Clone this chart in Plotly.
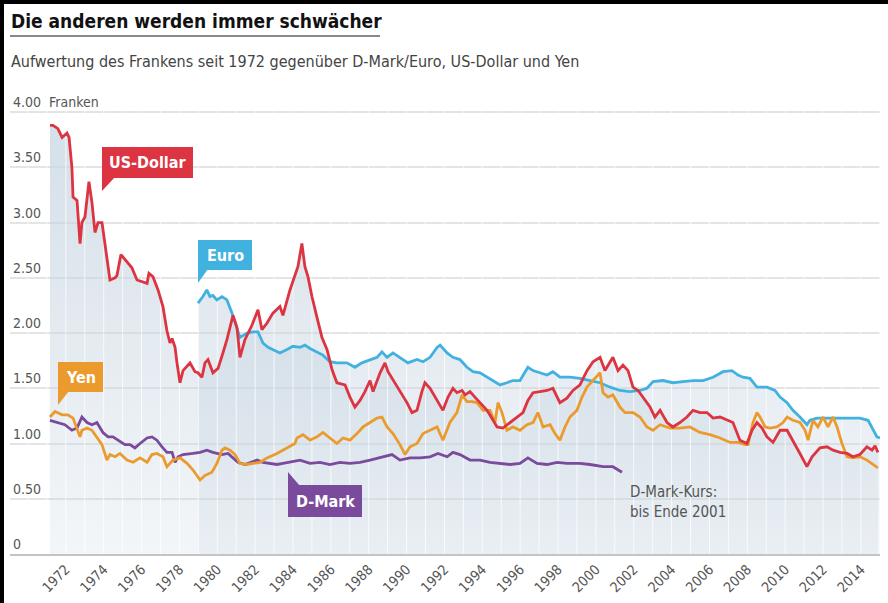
import plotly.graph_objects as go

# ---------------- data (CHF per unit: 1 USD, 1 EUR/ECU, 100 JPY, 100 DEM) ----------------
usd_years = [1971.16, 1971.32, 1971.58, 1971.80, 1972.06, 1972.17, 1972.32, 1972.38, 1972.59, 1972.75,
             1972.85, 1973.01, 1973.22, 1973.38, 1973.54, 1973.70, 1973.91, 1974.12, 1974.33, 1974.60,
             1974.70, 1974.91, 1975.23, 1975.49, 1975.76, 1976.07, 1976.29, 1976.39, 1976.60, 1976.87,
             1977.13, 1977.34, 1977.50, 1977.61, 1977.77, 1977.87, 1978.03, 1978.19, 1978.56, 1978.82,
             1978.98, 1979.19, 1979.35, 1979.51, 1979.77, 1980.04, 1980.14, 1980.30, 1980.51, 1980.83,
             1981.04, 1981.20, 1981.46, 1981.83, 1982.15, 1982.36, 1982.63, 1982.94, 1983.31, 1983.47,
             1983.84, 1984.10, 1984.26, 1984.47, 1984.63, 1984.79, 1985.00, 1985.27, 1985.53, 1985.80,
             1986.06, 1986.32, 1986.75, 1987.01, 1987.27, 1987.54, 1987.80, 1988.07, 1988.23, 1988.60,
             1988.86, 1989.02, 1989.39, 1989.76, 1990.02, 1990.29, 1990.55, 1990.81, 1990.97, 1991.24,
             1991.61, 1991.92, 1992.19, 1992.45, 1992.66, 1992.93, 1993.09, 1993.35, 1993.61, 1993.88,
             1994.25, 1994.57, 1994.78, 1995.09, 1995.46, 1995.83, 1996.15, 1996.41, 1996.68, 1997.05,
             1997.42, 1997.73, 1998.10, 1998.47, 1998.79, 1999.16, 1999.53, 1999.85, 2000.22, 2000.48,
             2000.90, 2001.17, 2001.43, 2001.70, 2001.96, 2002.23, 2002.49, 2002.86, 2003.12, 2003.39,
             2003.76, 2004.07, 2004.44, 2004.81, 2005.13, 2005.50, 2005.87, 2006.19, 2006.56, 2006.93,
             2007.24, 2007.61, 2007.98, 2008.25, 2008.51, 2008.78, 2009.04, 2009.36, 2009.73, 2010.10,
             2010.41, 2010.78, 2011.15, 2011.42, 2011.84, 2012.21, 2012.53, 2012.90, 2013.27, 2013.58,
             2013.95, 2014.32, 2014.59, 2014.75, 2014.90]
usd_values = [3.88, 3.88, 3.85, 3.77, 3.81, 3.77, 3.50, 3.23, 3.20, 2.81,
              3.00, 3.05, 3.37, 3.18, 2.91, 3.00, 3.00, 2.75, 2.48, 2.50,
              2.52, 2.71, 2.64, 2.59, 2.48, 2.46, 2.45, 2.54, 2.51, 2.39,
              2.24, 2.02, 1.91, 1.95, 1.87, 1.73, 1.55, 1.66, 1.73, 1.65,
              1.64, 1.60, 1.73, 1.76, 1.64, 1.68, 1.73, 1.82, 1.94, 2.16,
              2.05, 1.78, 1.94, 2.07, 2.21, 2.03, 2.09, 2.18, 2.24, 2.16,
              2.39, 2.51, 2.60, 2.81, 2.60, 2.51, 2.33, 2.14, 1.96, 1.85,
              1.67, 1.55, 1.53, 1.42, 1.33, 1.39, 1.47, 1.57, 1.47, 1.64,
              1.73, 1.65, 1.55, 1.44, 1.37, 1.28, 1.30, 1.47, 1.55, 1.50,
              1.39, 1.30, 1.42, 1.50, 1.46, 1.48, 1.44, 1.47, 1.42, 1.37,
              1.30, 1.21, 1.15, 1.14, 1.19, 1.24, 1.28, 1.39, 1.46, 1.47,
              1.48, 1.50, 1.37, 1.41, 1.48, 1.53, 1.66, 1.74, 1.78, 1.66,
              1.78, 1.66, 1.71, 1.66, 1.51, 1.48, 1.42, 1.33, 1.24, 1.30,
              1.19, 1.15, 1.19, 1.24, 1.30, 1.28, 1.28, 1.23, 1.24, 1.21,
              1.19, 1.03, 1.00, 1.12, 1.19, 1.14, 1.06, 1.01, 1.12, 1.12,
              1.03, 0.91, 0.79, 0.88, 0.96, 0.97, 0.94, 0.92, 0.91, 0.88,
              0.90, 0.97, 0.94, 0.98, 0.92]

eur_years = [1978.98, 1979.24, 1979.45, 1979.61, 1979.77, 1979.98, 1980.25, 1980.51, 1980.78, 1981.04,
             1981.20, 1981.57, 1981.89, 1982.15, 1982.41, 1982.68, 1982.94, 1983.31, 1983.68, 1984.00,
             1984.37, 1984.63, 1984.90, 1985.27, 1985.58, 1985.95, 1986.32, 1986.85, 1987.27, 1987.64,
             1988.07, 1988.44, 1988.70, 1988.97, 1989.28, 1989.65, 1990.07, 1990.55, 1990.87, 1991.24,
             1991.61, 1991.77, 1992.14, 1992.45, 1992.82, 1993.19, 1993.51, 1993.88, 1994.25, 1994.57,
             1994.94, 1995.30, 1995.62, 1995.99, 1996.41, 1996.68, 1997.05, 1997.42, 1997.73, 1998.10,
             1998.63, 1999.16, 1999.69, 2000.22, 2000.75, 2001.27, 2001.80, 2002.33, 2002.70, 2003.02,
             2003.55, 2004.07, 2004.60, 2005.13, 2005.66, 2006.19, 2006.72, 2007.19, 2007.51, 2007.77,
             2008.14, 2008.51, 2009.04, 2009.46, 2009.73, 2010.10, 2010.41, 2010.78, 2011.15, 2011.31,
             2011.68, 2012.21, 2012.74, 2013.27, 2013.95, 2014.38, 2014.64, 2014.85, 2015.01]
eur_values = [2.27, 2.33, 2.39, 2.33, 2.34, 2.30, 2.33, 2.30, 2.18, 2.05,
              1.96, 2.00, 2.01, 2.01, 1.91, 1.87, 1.85, 1.82, 1.85, 1.88,
              1.87, 1.89, 1.86, 1.83, 1.80, 1.74, 1.73, 1.73, 1.69, 1.73,
              1.76, 1.78, 1.83, 1.78, 1.82, 1.78, 1.73, 1.76, 1.74, 1.78,
              1.87, 1.89, 1.82, 1.78, 1.76, 1.69, 1.65, 1.64, 1.60, 1.57,
              1.53, 1.55, 1.57, 1.57, 1.69, 1.66, 1.64, 1.62, 1.65, 1.60,
              1.60, 1.59, 1.57, 1.55, 1.51, 1.48, 1.47, 1.48, 1.50, 1.56,
              1.57, 1.55, 1.56, 1.57, 1.57, 1.60, 1.65, 1.66, 1.62, 1.60,
              1.59, 1.51, 1.51, 1.48, 1.42, 1.37, 1.30, 1.24, 1.17, 1.21,
              1.23, 1.23, 1.23, 1.23, 1.23, 1.21, 1.12, 1.06, 1.05]

jpy_years = [1971.16, 1971.43, 1971.80, 1972.11, 1972.38, 1972.64, 1972.75, 1972.85, 1973.12, 1973.38,
             1973.64, 1973.91, 1974.17, 1974.33, 1974.60, 1974.86, 1975.23, 1975.55, 1975.92, 1976.29,
             1976.55, 1976.81, 1977.13, 1977.34, 1977.66, 1978.03, 1978.40, 1978.72, 1979.09, 1979.35,
             1979.72, 1979.98, 1980.25, 1980.41, 1980.67, 1980.94, 1981.20, 1981.57, 1981.89, 1982.26,
             1982.63, 1983.15, 1983.68, 1984.10, 1984.21, 1984.53, 1984.90, 1985.27, 1985.58, 1985.95,
             1986.32, 1986.64, 1987.01, 1987.38, 1987.70, 1988.07, 1988.44, 1988.70, 1988.97, 1989.28,
             1989.65, 1989.92, 1990.18, 1990.55, 1990.87, 1991.24, 1991.61, 1991.92, 1992.29, 1992.66,
             1992.93, 1993.19, 1993.46, 1993.72, 1994.04, 1994.41, 1994.67, 1994.83, 1995.04, 1995.30,
             1995.62, 1995.99, 1996.36, 1996.68, 1996.94, 1997.21, 1997.58, 1997.84, 1998.10, 1998.37,
             1998.63, 1999.00, 1999.27, 1999.53, 1999.85, 2000.22, 2000.38, 2000.64, 2000.90, 2001.27,
             2001.54, 2001.96, 2002.33, 2002.70, 2003.02, 2003.39, 2003.92, 2004.44, 2004.97, 2005.50,
             2006.03, 2006.56, 2007.09, 2007.51, 2007.88, 2008.04, 2008.30, 2008.51, 2008.67, 2008.94,
             2009.20, 2009.57, 2009.89, 2010.10, 2010.41, 2010.78, 2011.05, 2011.21, 2011.47, 2011.73,
             2012.00, 2012.26, 2012.53, 2012.74, 2013.00, 2013.27, 2013.58, 2013.95, 2014.32, 2014.64,
             2014.90]
jpy_values = [1.24, 1.29, 1.26, 1.26, 1.23, 1.12, 1.06, 1.12, 1.14, 1.12,
              1.06, 0.99, 0.85, 0.90, 0.88, 0.91, 0.85, 0.83, 0.87, 0.83,
              0.90, 0.91, 0.88, 0.79, 0.85, 0.87, 0.82, 0.76, 0.67, 0.71,
              0.74, 0.82, 0.94, 0.96, 0.94, 0.90, 0.82, 0.81, 0.82, 0.83,
              0.87, 0.91, 0.96, 1.00, 1.05, 1.08, 1.03, 1.06, 1.10, 1.05,
              1.00, 1.05, 1.03, 1.09, 1.15, 1.19, 1.23, 1.24, 1.15, 1.09,
              0.99, 0.90, 0.97, 1.00, 1.09, 1.12, 1.15, 1.03, 1.19, 1.28,
              1.44, 1.38, 1.38, 1.37, 1.30, 1.30, 1.19, 1.37, 1.28, 1.12,
              1.15, 1.12, 1.17, 1.19, 1.28, 1.15, 1.17, 1.09, 1.03, 1.15,
              1.24, 1.30, 1.42, 1.51, 1.57, 1.64, 1.46, 1.42, 1.44, 1.33,
              1.28, 1.28, 1.24, 1.15, 1.12, 1.17, 1.14, 1.14, 1.15, 1.10,
              1.08, 1.05, 1.01, 1.01, 0.99, 0.99, 1.19, 1.28, 1.24, 1.15,
              1.14, 1.15, 1.19, 1.24, 1.21, 1.19, 1.12, 1.03, 1.21, 1.15,
              1.24, 1.15, 1.24, 1.15, 1.00, 0.88, 0.87, 0.88, 0.85, 0.81,
              0.78]

dem_years = [1971.16, 1971.58, 1971.95, 1972.32, 1972.59, 1972.85, 1973.12, 1973.38, 1973.64, 1973.96,
             1974.23, 1974.49, 1974.75, 1975.12, 1975.39, 1975.65, 1975.92, 1976.29, 1976.55, 1976.81,
             1977.08, 1977.34, 1977.61, 1977.77, 1977.93, 1978.19, 1978.72, 1979.09, 1979.45, 1979.77,
             1980.25, 1980.57, 1980.83, 1981.09, 1981.46, 1981.73, 1982.10, 1982.41, 1982.78, 1983.15,
             1983.47, 1983.84, 1984.37, 1984.90, 1985.43, 1985.95, 1986.48, 1987.01, 1987.54, 1988.07,
             1988.60, 1989.23, 1989.65, 1990.18, 1990.71, 1991.24, 1991.66, 1992.14, 1992.45, 1992.82,
             1993.35, 1993.88, 1994.41, 1994.94, 1995.46, 1995.99, 1996.41, 1996.89, 1997.42, 1997.95,
             1998.47, 1999.16, 1999.69, 2000.38, 2000.90, 2001.38]
dem_values = [1.21, 1.19, 1.17, 1.12, 1.14, 1.24, 1.19, 1.17, 1.19, 1.10,
              1.06, 1.06, 1.03, 0.99, 0.99, 0.96, 1.00, 1.05, 1.06, 1.03,
              0.97, 0.92, 0.92, 0.83, 0.88, 0.90, 0.91, 0.92, 0.94, 0.92,
              0.90, 0.91, 0.87, 0.83, 0.81, 0.83, 0.85, 0.83, 0.82, 0.81,
              0.82, 0.83, 0.85, 0.82, 0.83, 0.81, 0.83, 0.82, 0.83, 0.85,
              0.87, 0.90, 0.85, 0.87, 0.87, 0.88, 0.91, 0.88, 0.92, 0.90,
              0.85, 0.85, 0.83, 0.82, 0.81, 0.82, 0.87, 0.82, 0.81, 0.83,
              0.82, 0.82, 0.81, 0.79, 0.79, 0.74]

y_tickvals = [0, 0.5, 1.0, 1.5, 2.0, 2.5, 3.0, 3.5, 4.0]
y_ticktext = ["0", "0.50", "1.00", "1.50", "2.00", "2.50", "3.00", "3.50", "4.00&nbsp;&nbsp;Franken"]
x_tickvals = list(range(1972, 2015, 2))
x_ticktext = [str(v) for v in x_tickvals]
grid_years = list(range(1970, 2016))

# ---------------- styling ----------------
W, H = 888, 603
L, R, T, B = 10, 8, 101, 49
X0, X1 = 1969.05, 2015.01
Y0, Y1 = 0.0, 4.1
PW, PH = W - L - R, H - T - B

def xd(p):  # pixel -> x data
    return X0 + (p - L) / PW * (X1 - X0)

def yd(p):  # pixel -> y data
    return Y0 + (H - B - p) / PH * (Y1 - Y0)

def xp(p):  # pixel -> paper x
    return (p - L) / PW

def yp(p):  # pixel -> paper y
    return (H - B - p) / PH

FONT = "DejaVu Sans Condensed, DejaVu Sans, sans-serif"
RED, BLUE, ORANGE, PURPLE = "#dc3441", "#41b2e0", "#eb9b2d", "#7a4b9d"
fillscale = [[0, "rgba(200,214,226,0.22)"], [1, "rgba(200,214,226,0.78)"]]

fig = go.Figure()

for xs, ys in [(usd_years, usd_values), (eur_years, eur_values)]:
    fig.add_trace(go.Scatter(
        x=xs, y=ys, mode="lines", line=dict(width=0, color="rgba(0,0,0,0)"),
        fill="tozeroy",
        fillgradient=dict(type="vertical", colorscale=fillscale, start=0, stop=4),
        hoverinfo="skip", showlegend=False))

# white yearly gridlines over the shaded area
gx, gy = [], []
for yr in grid_years:
    gx += [yr, yr, None]
    gy += [0, 4.1, None]
fig.add_trace(go.Scatter(x=gx, y=gy, mode="lines",
                         line=dict(color="rgba(255,255,255,0.75)", width=1),
                         hoverinfo="skip", showlegend=False))

for xs, ys, col, name in [(eur_years, eur_values, BLUE, "Euro"),
                          (dem_years, dem_values, PURPLE, "D-Mark"),
                          (jpy_years, jpy_values, ORANGE, "Yen"),
                          (usd_years, usd_values, RED, "US-Dollar")]:
    fig.add_trace(go.Scatter(x=xs, y=ys, mode="lines", name=name,
                             line=dict(color=col, width=2.8), showlegend=False))

shapes = []
annotations = []

# label boxes with speech tails (pixel geometry converted to data coordinates)
boxes = [
    ("US-Dollar", RED, 102, 193, 147, 178, "down", 115),
    ("Euro", BLUE, 198, 252, 240, 270, "down", 208),
    ("Yen", ORANGE, 58, 103, 362, 392, "down", 69),
    ("D-Mark", PURPLE, 288, 362, 485, 517, "up", 300),
]
for text, col, x_a, x_b, y_a, y_b, tail, tx in boxes:
    shapes.append(dict(type="rect", xref="x", yref="y", x0=xd(x_a), x1=xd(x_b),
                       y0=yd(y_b), y1=yd(y_a), fillcolor=col, line=dict(width=0), layer="above"))
    if tail == "down":
        path = "M {},{} L {},{} L {},{} Z".format(xd(x_a), yd(y_b - 1), xd(tx), yd(y_b - 1), xd(x_a), yd(y_b + 13))
    else:
        path = "M {},{} L {},{} L {},{} Z".format(xd(x_a), yd(y_a + 1), xd(tx), yd(y_a + 1), xd(x_a), yd(y_a - 13))
    shapes.append(dict(type="path", xref="x", yref="y", path=path, fillcolor=col,
                       line=dict(width=0), layer="above"))
    annotations.append(dict(x=xd((x_a + x_b) / 2), y=yd((y_a + y_b) / 2), xref="x", yref="y",
                            text="<b>" + text + "</b>", showarrow=False,
                            font=dict(family=FONT, size=16, color="white"),
                            xanchor="center", yanchor="middle"))

annotations.append(dict(x=xd(628), y=yd(502), xref="x", yref="y",
                        text="D-Mark-Kurs:<br>bis Ende 2001", showarrow=False, align="left",
                        xanchor="left", yanchor="middle",
                        font=dict(family=FONT, size=15, color="#555555")))

# title & subtitle
annotations.append(dict(x=xp(9), y=yp(21), xref="paper", yref="paper", xanchor="left", yanchor="middle",
                        text="<b>Die anderen werden immer schwächer</b>", showarrow=False,
                        font=dict(family=FONT, size=19, color="#111111")))
annotations.append(dict(x=xp(9), y=yp(61), xref="paper", yref="paper", xanchor="left", yanchor="middle",
                        text="Aufwertung des Frankens seit 1972 gegenüber D-Mark/Euro, US-Dollar und Yen",
                        showarrow=False, font=dict(family=FONT, size=16, color="#444444")))

shapes.append(dict(type="line", xref="paper", yref="paper", x0=xp(10), x1=xp(380), y0=yp(36), y1=yp(36),
                   line=dict(color="#8a8a8a", width=2)))
# black frame at top and left
shapes.append(dict(type="line", xref="paper", yref="paper", x0=xp(0), x1=xp(888), y0=yp(2), y1=yp(2),
                   line=dict(color="#000000", width=4)))
shapes.append(dict(type="line", xref="paper", yref="paper", x0=xp(2), x1=xp(2), y0=yp(0), y1=yp(603),
                   line=dict(color="#000000", width=4)))

fig.update_layout(
    width=W, height=H,
    margin=dict(l=L, r=R, t=T, b=B),
    paper_bgcolor="white", plot_bgcolor="white",
    showlegend=False,
    shapes=shapes, annotations=annotations,
    font=dict(family=FONT, color="#555555"),
    xaxis=dict(range=[X0, X1], tickvals=x_tickvals, ticktext=x_ticktext, tickangle=-45,
               showgrid=False, zeroline=False, showline=True, linecolor="#c4c4c4", linewidth=1.5,
               ticks="", tickfont=dict(family=FONT, size=14, color="#555555")),
    yaxis=dict(range=[Y0, Y1], tickvals=y_tickvals, ticktext=y_ticktext,
               ticklabelposition="inside top", ticklabeloverflow="allow",
               showgrid=True, gridcolor="#e4e4e4", gridwidth=1.5, zeroline=False,
               ticks="", tickfont=dict(family=FONT, size=14, color="#555555")),
)

fig.write_html("out.html", config={"displayModeBar": False},
               post_script="document.body.style.margin='0px';document.body.style.overflow='hidden';")
